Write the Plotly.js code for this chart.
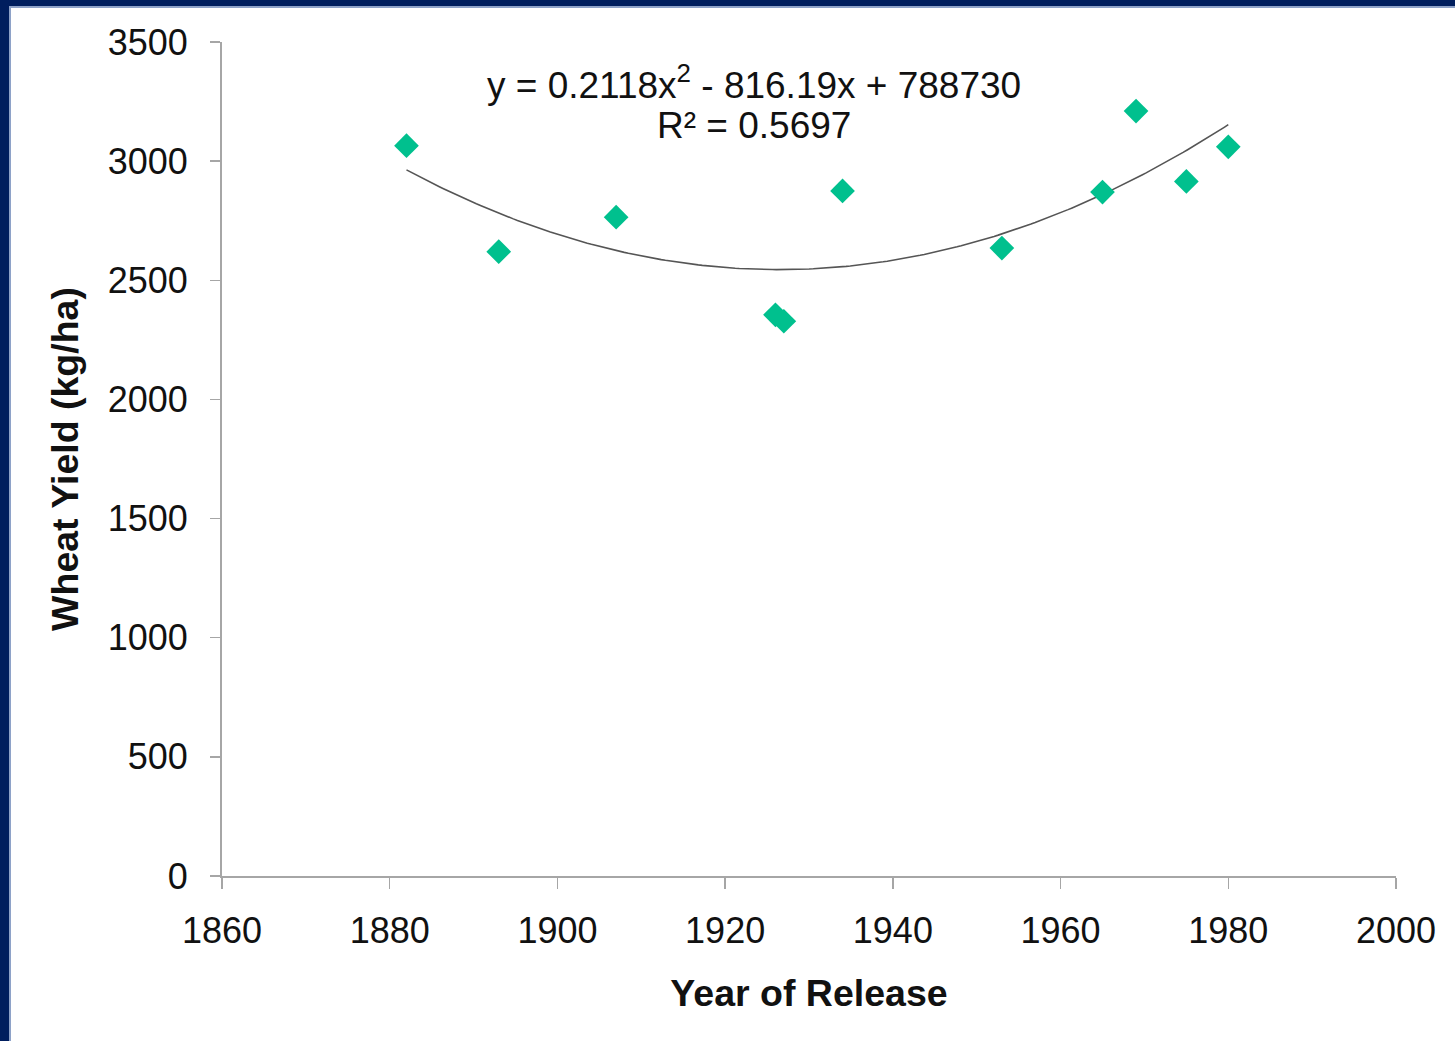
<!DOCTYPE html>
<html>
<head>
<meta charset="utf-8">
<script src="https://cdn.plot.ly/plotly-3.0.1.min.js"></script>
<style>
  html, body { margin: 0; padding: 0; background: #ffffff; }
  #frame { position: absolute; left: 0; top: 0; width: 1455px; height: 1041px; background: #001e5e; overflow: hidden; }
  #inner { position: absolute; left: 9px; top: 6px; width: 1446px; height: 1035px; background: #8ea2c8; }
  #chart { position: absolute; left: 2px; top: 2px; width: 1444px; height: 1033px; background: #ffffff; }
</style>
</head>
<body>
<div id="frame"><div id="inner"><div id="chart"></div></div></div>
<script>
// Data
const releaseYears = [1882, 1893, 1907, 1926, 1927, 1934, 1953, 1965, 1969, 1975, 1980];
const wheatYield   = [3065, 2620, 2765, 2355, 2328, 2875, 2635, 2870, 3210, 2915, 3060];
const xTickVals = [1860, 1880, 1900, 1920, 1940, 1960, 1980, 2000];
const yTickVals = [0, 500, 1000, 1500, 2000, 2500, 3000, 3500];
const equationText = "y = 0.2118x<sup>2</sup> - 816.19x + 788730";
const r2Text = "R² = 0.5697";

// Least-squares quadratic fit of the data (polynomial trendline)
function quadFit(xs, ys) {
  const n = xs.length;
  const mx = xs.reduce((a, b) => a + b, 0) / n;
  const u = xs.map(x => x - mx);
  let S = [0, 0, 0, 0, 0], T = [0, 0, 0];
  for (let i = 0; i < n; i++) {
    for (let k = 0; k < 5; k++) S[k] += Math.pow(u[i], k);
    for (let k = 0; k < 3; k++) T[k] += ys[i] * Math.pow(u[i], k);
  }
  const A = [[S[0], S[1], S[2], T[0]], [S[1], S[2], S[3], T[1]], [S[2], S[3], S[4], T[2]]];
  for (let c = 0; c < 3; c++) {
    for (let r = c + 1; r < 3; r++) {
      const f = A[r][c] / A[c][c];
      for (let k = c; k < 4; k++) A[r][k] -= f * A[c][k];
    }
  }
  const coef = [0, 0, 0];
  for (let r = 2; r >= 0; r--) {
    let s = A[r][3];
    for (let k = r + 1; k < 3; k++) s -= A[r][k] * coef[k];
    coef[r] = s / A[r][r];
  }
  return x => coef[0] + coef[1] * (x - mx) + coef[2] * (x - mx) * (x - mx);
}
const fit = quadFit(releaseYears, wheatYield);
const xMin = Math.min(...releaseYears), xMax = Math.max(...releaseYears);
const trendX = [], trendY = [];
for (let i = 0; i <= 200; i++) {
  const x = xMin + (xMax - xMin) * i / 200;
  trendX.push(x); trendY.push(fit(x));
}

const FONT = "Liberation Sans, Arial, sans-serif";

const traces = [
  {
    x: trendX, y: trendY, type: "scatter", mode: "lines",
    line: { color: "#555555", width: 1.6 }, hoverinfo: "skip"
  },
  {
    x: releaseYears, y: wheatYield, type: "scatter", mode: "markers",
    marker: { symbol: "diamond", size: 19, color: "#00c08e", line: { width: 0 } }
  }
];

const layout = {
  width: 1444, height: 1033,
  margin: { l: 211, r: 59, t: 34, b: 165 },
  paper_bgcolor: "#ffffff", plot_bgcolor: "#ffffff",
  showlegend: false,
  font: { family: FONT, color: "#111111", size: 36 },
  xaxis: {
    range: [1860, 2000], tickmode: "array", tickvals: xTickVals,
    ticks: "outside", ticklen: 11, tickwidth: 1.5, tickcolor: "#a6a6a6",
    showline: true, linecolor: "#a6a6a6", linewidth: 2,
    showgrid: false, zeroline: false, ticklabelstandoff: 11,
    tickfont: { family: FONT, size: 36, color: "#111111" },
    title: { text: "<b>Year of Release</b>", font: { family: FONT, size: 37.5, color: "#111111" }, standoff: 30 }
  },
  yaxis: {
    range: [0, 3500], tickmode: "array", tickvals: yTickVals,
    ticks: "outside", ticklen: 10, tickwidth: 1.5, tickcolor: "#a6a6a6",
    showline: true, linecolor: "#a6a6a6", linewidth: 2,
    showgrid: false, zeroline: false, ticklabelstandoff: 15,
    tickfont: { family: FONT, size: 36, color: "#111111" },
    title: { text: "<b>Wheat Yield (kg/ha)</b>", font: { family: FONT, size: 37.5, color: "#111111" }, standoff: 18 }
  },
  annotations: [
    {
      x: 1923.5, y: 3332, xref: "x", yref: "y", text: equationText, showarrow: false,
      font: { family: FONT, size: 37, color: "#111111" }, xanchor: "center", yanchor: "middle"
    },
    {
      x: 1923.5, y: 3150, xref: "x", yref: "y", text: r2Text, showarrow: false,
      font: { family: FONT, size: 37, color: "#111111" }, xanchor: "center", yanchor: "middle"
    }
  ]
};

Plotly.newPlot("chart", traces, layout, { displayModeBar: false, staticPlot: true });
</script>
</body>
</html>
